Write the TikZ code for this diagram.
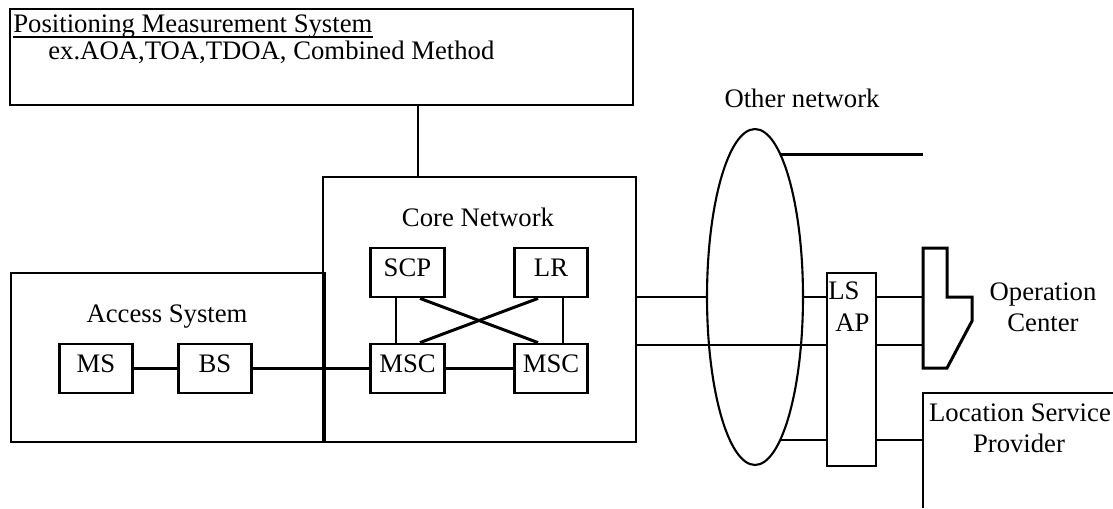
\documentclass[tikz,border=0pt]{standalone}
\usepackage{fontspec}
\setmainfont{Liberation Serif}
\usetikzlibrary{shapes.geometric}

\tikzset{
  block/.style={draw, line width=1.6pt, minimum width=1.47cm, minimum height=0.98cm, inner sep=0pt, text height=0.5cm, text depth=0.36cm, font=\fontsize{15.2}{18}\selectfont},
  area/.style={draw, line width=1.4pt, inner sep=0pt},
  lab/.style={inner sep=0pt, font=\fontsize{15.2}{18}\selectfont},
  thinline/.style={line width=0.9pt},
  thickline/.style={line width=1.7pt}
}

\begin{document}
\begin{tikzpicture}[x=0.02cm, y=-0.02cm]

\useasboundingbox (0,0) rectangle (1113,508);

% measurement system
\node[area, minimum width=12.46cm, minimum height=1.92cm] (pms) at (321.5,57) {};
\node[lab, anchor=base west] (pmstitle) at (13,32) {Positioning Measurement System};
\draw[line width=0.7pt] ([yshift=-0.1cm]pmstitle.base west) -- ([yshift=-0.1cm]pmstitle.base east);
\node[lab, anchor=base west] (pmsex) at (48,59) {ex.AOA,TOA,TDOA, Combined Method};
\coordinate (pmsport) at (418,105);

% access system and core network
\node[area, minimum width=6.28cm, minimum height=3.38cm] (access) at (168,357.5) {};
\node[lab, anchor=base] (accesslab) at (167,322) {Access System};
\node[area, minimum width=6.26cm, minimum height=5.3cm] (core) at (479.5,309.5) {};
\node[lab, anchor=base] (corelab) at (478,226) {Core Network};

\node[block] (MS) at (96,368.5) {MS};
\node[block] (BS) at (215,368.5) {BS};
\node[block] (SCP) at (407.5,272.5) {SCP};
\node[block] (LR) at (551,272.5) {LR};
\node[block] (MSC1) at (407.5,368.5) {MSC};
\node[block] (MSC2) at (551,368.5) {MSC};

\foreach \from/\to in {MS/BS, BS/MSC1, MSC1/MSC2}
	\draw[thickline] (\from) -- (\to);

\draw[thickline] ([xshift=-0.23cm]SCP.south) -- ([xshift=-0.23cm]MSC1.north);
\draw[line width=1.1pt] ([xshift=0.24cm]LR.south) -- ([xshift=0.24cm]MSC2.north);
\draw[thickline] ([xshift=0.25cm]SCP.south) -- ([xshift=-0.26cm]MSC2.north);
\draw[thickline] ([xshift=-0.26cm]LR.south) -- ([xshift=0.25cm]MSC1.north);

\draw[thinline] (pmsport) -- (pmsport |- core.north);

% other network and LSAP
\node[lab, anchor=base] (netlab) at (802,107) {Other network};
\node[ellipse, draw, line width=1.2pt, minimum width=1.92cm, minimum height=6.72cm, inner sep=0pt, outer sep=0pt] (othernet) at (755,297) {};
\node[draw, thinline, minimum width=0.98cm, minimum height=3.86cm, inner sep=0pt] (lsap) at (851.5,369.5) {};
\node[lab, anchor=base west] (lstext) at (828,299) {LS};
\node[lab, anchor=base west] (aptext) at (835,331) {AP};

\coordinate (cport) at (636,345);
\coordinate (opc) at (923,248);
\coordinate (lsp) at (923,393);

\draw[thinline] (core.east |- othernet) -- (othernet.west);
\draw[thinline] (othernet.east) -- (othernet.east -| lsap.west);
\draw[thinline] (lsap.east |- othernet) -- (opc |- othernet);
\draw[thinline] (cport) -- (cport -| lsap.west);
\draw[thinline] (lsap.east |- cport) -- (opc |- cport);
\draw[thinline] (othernet.-80) -- (othernet.-80 -| lsap.west);
\draw[thinline] (lsap.east |- othernet.-80) -- (othernet.-80 -| lsp);
\draw[thickline] (othernet.80) -- (othernet.80 -| opc);

% operation center
\draw[thickline] (opc) -- ++(24,0) -- ++(0,49) -- ++(25,0) -- ++(0,24) -- ++(-25,47) -- ++(-24,0) -- cycle;
\node[lab, anchor=base] (oplab) at (1043,300) {Operation};
\node[lab, anchor=base] (centerlab) at (1043,331) {Center};

% location service provider
\draw[thinline] (1113,393) -- (lsp) -- (923,508);
\node[lab, anchor=base] (lsplab) at (1020,421) {Location Service};
\node[lab, anchor=base] (provlab) at (1019,452) {Provider};

\end{tikzpicture}
\end{document}
